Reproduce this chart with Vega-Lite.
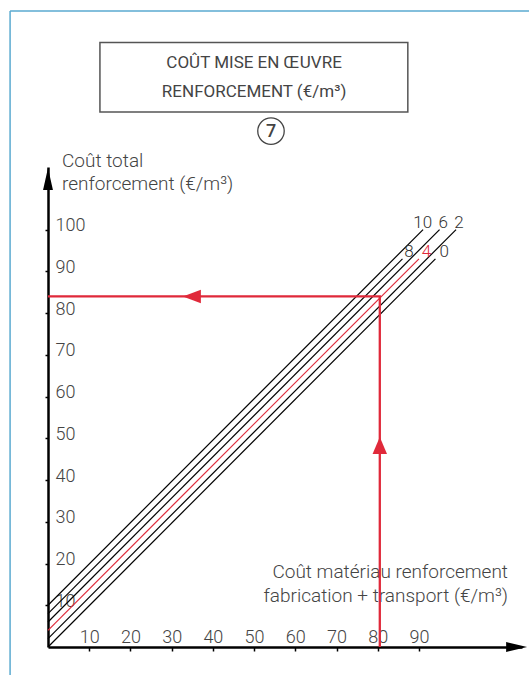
{
  "$schema": "https://vega.github.io/schema/vega-lite/v6.json",
  "width": 474,
  "height": 480,
  "autosize": {"type": "none"},
  "padding": {"left": 48, "top": 167, "right": 7, "bottom": 28},
  "background": "white",
  "config": {"view": {"stroke": null}, "font": "Roboto"},
  "datasets": {
    "lines": [
      {"c": "0", "x": 0, "y": 0}, {"c": "0", "x": 94, "y": 93},
      {"c": "2", "x": 0, "y": 2}, {"c": "2", "x": 99, "y": 100},
      {"c": "4", "x": 0, "y": 4}, {"c": "4", "x": 90, "y": 93},
      {"c": "6", "x": 0, "y": 6}, {"c": "6", "x": 95, "y": 100},
      {"c": "8", "x": 0, "y": 8}, {"c": "8", "x": 86, "y": 93},
      {"c": "10", "x": 0, "y": 10}, {"c": "10", "x": 91, "y": 100}
    ],
    "linelabels": [
      {"c": "10", "x": 90.9, "y": 100.4},
      {"c": "6", "x": 95.9, "y": 100.4},
      {"c": "2", "x": 99.7, "y": 100.4},
      {"c": "8", "x": 87.6, "y": 93.4},
      {"c": "4", "x": 91.8, "y": 93.4},
      {"c": "0", "x": 96.1, "y": 93.4}
    ],
    "redpath": [
      {"o": 1, "x": 0, "y": 84},
      {"o": 2, "x": 80.5, "y": 84},
      {"o": 3, "x": 80.5, "y": 0}
    ],
    "arrows": [
      {"id": "yaxis", "x": 0, "y": 112.1},
      {"id": "xaxis", "x": 113.7, "y": 0},
      {"id": "redleft", "x": 34.9, "y": 84},
      {"id": "redup", "x": 80.5, "y": 48.3}
    ],
    "notes": [
      {"g": "title", "t": "COÛT MISE EN ŒUVRE", "x": 50.0, "y": 138.6},
      {"g": "title", "t": "RENFORCEMENT (€/m³)", "x": 50.0, "y": 131.7},
      {"g": "ytitle", "t": "Coût total", "x": 3.4, "y": 115.1},
      {"g": "ytitle", "t": "renforcement (€/m³)", "x": 3.4, "y": 109.5},
      {"g": "xtitle", "t": "Coût matériau renforcement", "x": 111.6, "y": 16.5},
      {"g": "xtitle", "t": "fabrication + transport (€/m³)", "x": 111.6, "y": 10.9},
      {"g": "badge", "t": "7", "x": 54.1, "y": 123.6}
    ],
    "box": [{"x": 12.6, "x2": 87.3, "y": 144.8, "y2": 128.2}],
    "frametop": [{"x": -9.2, "x2": 116.7, "y": 152.4}],
    "frameleft": [{"x": -9.2, "y": 152.4, "y2": -6.8}]
  },
  "encoding": {
    "x": {
      "field": "x", "type": "quantitative",
      "scale": {"domain": [0, 115], "nice": false, "zero": false},
      "axis": {
        "values": [10, 20, 30, 40, 50, 60, 70, 80, 90],
        "title": null, "grid": false,
        "domainColor": "black", "domainWidth": 2.5,
        "tickColor": "black", "tickWidth": 1.5, "tickSize": 4,
        "labelPadding": -9, "labelBaseline": "alphabetic",
        "labelFont": "Roboto", "labelFontSize": 18, "labelFontWeight": 300,
        "labelColor": "#444", "labelFlush": false, "labelOverlap": false
      }
    },
    "y": {
      "field": "y", "type": "quantitative",
      "scale": {"domain": [0, 115], "nice": false, "zero": false},
      "axis": {
        "values": [10, 20, 30, 40, 50, 60, 70, 80, 90, 100],
        "title": null, "grid": false,
        "domainColor": "black", "domainWidth": 2.5,
        "tickColor": "black", "tickWidth": 1.5, "tickSize": 3,
        "labelPadding": -10, "labelAlign": "left", "labelBaseline": "alphabetic",
        "labelOffset": 1,
        "labelFont": "Roboto", "labelFontSize": 18, "labelFontWeight": 300,
        "labelColor": "#444", "labelFlush": false, "labelOverlap": false
      }
    }
  },
  "layer": [
    {
      "data": {"name": "frametop"},
      "mark": {"type": "rule", "stroke": "#5aaad0", "strokeWidth": 1.5},
      "encoding": {"x2": {"field": "x2"}}
    },
    {
      "data": {"name": "frameleft"},
      "mark": {"type": "rule", "stroke": "#5aaad0", "strokeWidth": 1.5},
      "encoding": {"y2": {"field": "y2"}}
    },
    {
      "data": {"name": "box"},
      "mark": {"type": "rect", "fill": "white", "fillOpacity": 0, "stroke": "#555", "strokeWidth": 1.5},
      "encoding": {"x2": {"field": "x2"}, "y2": {"field": "y2"}}
    },
    {
      "data": {"name": "notes"},
      "transform": [{"filter": "datum.g === 'badge'"}],
      "mark": {"type": "point", "shape": "circle", "filled": false, "size": 700, "stroke": "#444", "strokeWidth": 1.3, "opacity": 1}
    },
    {
      "data": {"name": "notes"},
      "transform": [{"filter": "datum.g === 'badge'"}],
      "mark": {"type": "text", "font": "Roboto", "fontSize": 18, "fontWeight": 500, "fill": "#444", "align": "center", "baseline": "middle", "dy": 1},
      "encoding": {"text": {"field": "t"}}
    },
    {
      "data": {"name": "notes"},
      "transform": [{"filter": "datum.g === 'title'"}],
      "mark": {"type": "text", "font": "Roboto", "fontSize": 17, "fontWeight": 400, "fill": "#444", "align": "center", "baseline": "alphabetic"},
      "encoding": {"text": {"field": "t"}}
    },
    {
      "data": {"name": "notes"},
      "transform": [{"filter": "datum.g === 'ytitle'"}],
      "mark": {"type": "text", "font": "Roboto", "fontSize": 19, "fontWeight": 300, "fill": "#444", "align": "left", "baseline": "alphabetic"},
      "encoding": {"text": {"field": "t"}}
    },
    {
      "data": {"name": "notes"},
      "transform": [{"filter": "datum.g === 'xtitle'"}],
      "mark": {"type": "text", "font": "Roboto", "fontSize": 19, "fontWeight": 300, "fill": "#444", "align": "right", "baseline": "alphabetic"},
      "encoding": {"text": {"field": "t"}}
    },
    {
      "data": {"name": "lines"},
      "mark": {"type": "line", "strokeWidth": 1.2},
      "encoding": {
        "detail": {"field": "c"},
        "color": {"condition": {"test": "datum.c === '4'", "value": "#e0293a"}, "value": "black"}
      }
    },
    {
      "data": {"name": "linelabels"},
      "mark": {"type": "text", "font": "Roboto", "fontSize": 17, "fontWeight": 300, "align": "center", "baseline": "alphabetic"},
      "encoding": {
        "text": {"field": "c"},
        "color": {"condition": {"test": "datum.c === '4'", "value": "#e0293a"}, "value": "#333"}
      }
    },
    {
      "data": {"name": "redpath"},
      "mark": {"type": "line", "stroke": "#e0293a", "strokeWidth": 2.3},
      "encoding": {"order": {"field": "o"}}
    },
    {
      "data": {"name": "arrows"},
      "transform": [{"filter": "datum.id === 'yaxis'"}],
      "mark": {"type": "point", "shape": "M0,-1L0.45,1L-0.45,1Z", "filled": true, "fill": "black", "size": 484, "opacity": 1}
    },
    {
      "data": {"name": "arrows"},
      "transform": [{"filter": "datum.id === 'xaxis'"}],
      "mark": {"type": "point", "shape": "M1,0L-1,-0.47L-1,0.47Z", "filled": true, "fill": "black", "size": 441, "opacity": 1}
    },
    {
      "data": {"name": "arrows"},
      "transform": [{"filter": "datum.id === 'redleft'"}],
      "mark": {"type": "point", "shape": "M-1,0L1,-0.75L1,0.75Z", "filled": true, "fill": "#e0293a", "size": 324, "opacity": 1}
    },
    {
      "data": {"name": "arrows"},
      "transform": [{"filter": "datum.id === 'redup'"}],
      "mark": {"type": "point", "shape": "M0,-1L0.85,1L-0.85,1Z", "filled": true, "fill": "#e0293a", "size": 289, "opacity": 1}
    }
  ]
}
